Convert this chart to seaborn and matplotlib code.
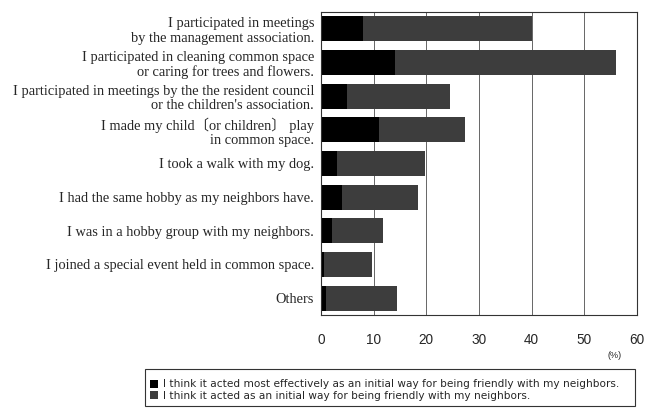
import matplotlib
matplotlib.use("Agg")
import matplotlib.pyplot as plt
import seaborn as sns
import pandas as pd
from matplotlib.patches import Patch, Rectangle

categories = [
    "I participated in meetings\nby the management association.",
    "I participated in cleaning common space\nor caring for trees and flowers.",
    "I participated in meetings by the the resident council\nor the children's association.",
    "I made my child\u3014or children\u3015 play\nin common space.",
    "I took a walk with my dog.",
    "I had the same hobby as my neighbors have.",
    "I was in a hobby group with my neighbors.",
    "I joined a special event held in common space.",
    "Others",
]
most_effective = [8, 14, 5, 11, 3, 4, 2, 0.5, 1]
total_effective = [40, 56, 24.4, 27.4, 19.8, 18.4, 11.8, 9.6, 14.4]
legend_labels = [
    "I think it acted most effectively as an initial way for being friendly with my neighbors.",
    "I think it acted as an initial way for being friendly with my neighbors.",
]
xticks = [0, 10, 20, 30, 40, 50, 60]

df = pd.DataFrame({"cat": categories, "most": most_effective, "total": total_effective})

sns.set_style("white")
W, H = 648, 408
fig = plt.figure(figsize=(6.48, 4.08), dpi=100)
ax = fig.add_axes([321 / W, 1 - 315 / H, 316 / W, 303 / H])

gray = "#3d3d3d"
sns.barplot(data=df, y="cat", x="total", color=gray, orient="h", width=0.74,
            ax=ax, saturation=1, edgecolor="none")
sns.barplot(data=df, y="cat", x="most", color="#000000", orient="h", width=0.74,
            ax=ax, saturation=1, edgecolor="none")

ax.set_xlim(0, 60)
ax.set_xticks(xticks)
ax.set_xticklabels([str(t) for t in xticks], family="Liberation Sans", fontsize=9.8)
ax.tick_params(axis="x", length=0, pad=13)
ax.tick_params(axis="y", length=0, pad=5)
ax.set_yticklabels(categories, family=["Liberation Serif", "Noto Sans CJK JP"],
                   fontsize=10.4, linespacing=1.17)
ax.set_xlabel("")
ax.set_ylabel("")
for x in xticks[1:-1]:
    ax.axvline(x, color="#666666", lw=0.7, zorder=0)
for side in ["top", "left", "bottom", "right"]:
    ax.spines[side].set_visible(True)
    ax.spines[side].set_color("#333333")
    ax.spines[side].set_linewidth(0.8)

fig.text(615 / W, 1 - 355 / H, "(%)", fontsize=6.5, family="Liberation Sans",
         ha="center", va="center")

# legend frame
fig.patches.append(Rectangle((145 / W, 1 - 406 / H), 490 / W, 37 / H,
                             transform=fig.transFigure, fill=False,
                             edgecolor="#333333", lw=0.8))
handles = [Patch(facecolor="#000000", edgecolor="none"),
           Patch(facecolor=gray, edgecolor="none")]
leg = fig.legend(handles, legend_labels, loc="upper left",
                 bbox_to_anchor=(143 / W, 1 - 372 / H), frameon=False,
                 handlelength=0.75, handleheight=0.75,
                 handletextpad=0.45, borderpad=0.2, labelspacing=0.12,
                 prop={"family": "DejaVu Sans", "size": 7.55})

fig.savefig("out.png", dpi=100)
